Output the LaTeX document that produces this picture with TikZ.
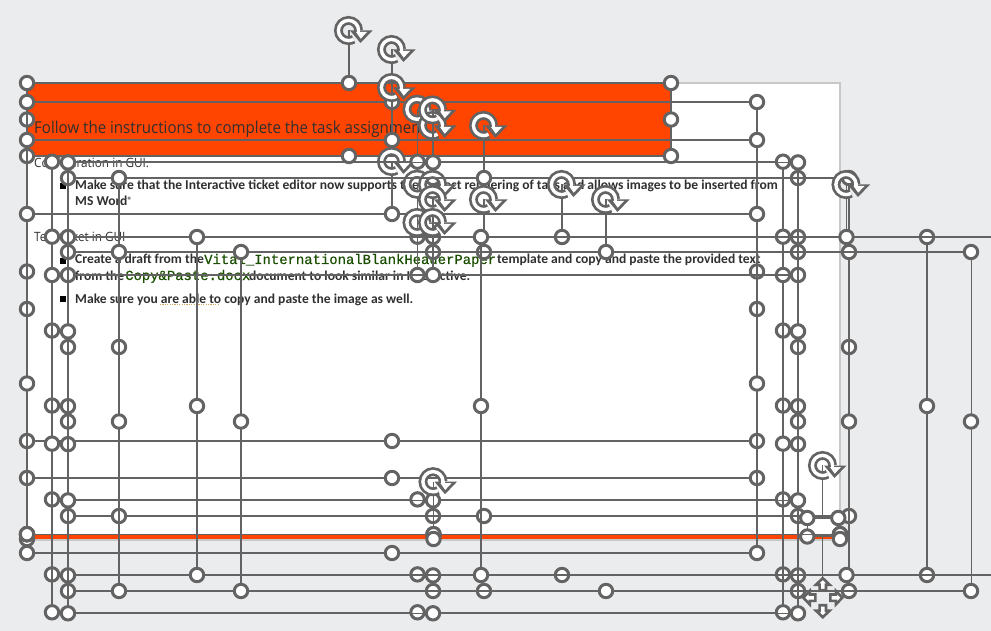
\documentclass[tikz,border=0pt]{standalone}
\usepackage{fontspec}
\setmainfont{Open Sans}[FakeStretch=0.92]
\newfontfamily\bodyfont{Carlito}[BoldFont={Carlito Bold}]
\newfontfamily\codefont{Liberation Mono}[FakeBold=0.5]
\definecolor{pagebg}{HTML}{EBECEE}
\definecolor{slideedge}{HTML}{C8C8C8}
\definecolor{barfill}{HTML}{FF4500}
\definecolor{selgray}{HTML}{636363}
\definecolor{inktext}{HTML}{303030}
\definecolor{codegreen}{HTML}{1A4F00}
\definecolor{squiggle}{HTML}{D0A860}
\tikzset{
  selline/.style={draw=selgray,line width=1.02pt},
  grip/.style={draw=selgray,fill=white,line width=3pt},
  head/.style={font=\fontsize{16.4}{20}\selectfont,text=inktext,anchor=base west,inner sep=0pt},
  subhead/.style={font=\fontsize{12.8}{16}\selectfont,text=inktext,anchor=base west,inner sep=0pt},
  body/.style={font=\bodyfont\bfseries\fontsize{13.56}{17}\selectfont,text=inktext,anchor=base west,inner sep=0pt},
  code/.style={font=\codefont\fontsize{13.9}{17}\selectfont,text=codegreen,anchor=base west,inner sep=0pt},
}
\newcommand{\gripat}[2]{\path[grip] (#1,#2) circle[radius=6.7];}
\newcommand{\rotmark}[2]{%
  \begin{scope}[shift={(#1-0.5,#2)}]
    \draw[selgray,line width=8.8pt] (10.1,0) arc[start angle=0,end angle=-300,radius=10.1];
    \draw[white,line width=3.4pt] (10.1,0) arc[start angle=0,end angle=-300,radius=10.1];
    \fill[selgray] (1.5,0) -- (24,0) -- (12,12.5) -- cycle;
    \fill[white] (7.5,1.5) -- (18.5,1.5) -- (12.2,8.2) -- cycle;
    \fill[white] (8.4,-1) rectangle (11.8,2);
  \end{scope}}
% left, top, right, bottom
\newcommand{\selbox}[4]{%
  \pgfmathsetmacro{\mx}{(#1+#3)/2}%
  \pgfmathsetmacro{\my}{(#2+#4)/2}%
  \pgfmathsetmacro{\ry}{#2-52.5}%
  \path[selline] (#1,#2) rectangle (#3,#4);
  \path[selline] (\mx,#2) -- (\mx,\ry);
  \rotmark{\mx}{\ry}
  \gripat{#1}{#2}\gripat{\mx}{#2}\gripat{#3}{#2}
  \gripat{#1}{\my}\gripat{#3}{\my}
  \gripat{#1}{#4}\gripat{\mx}{#4}\gripat{#3}{#4}}
\begin{document}
\begin{tikzpicture}[x=1pt,y=-1pt]
\clip (0,0) rectangle (991,631);
\fill[pagebg] (0,0) rectangle (991,631);
\path[fill=white,draw=slideedge,line width=1.2pt] (27,83) rectangle (840,540);
\fill[barfill] (27,83) rectangle (671,156);
\fill[barfill] (27,534.4) rectangle (840,539);
% texts
\node[head] (title) at (34,134) {Follow the instructions to complete the task assignment};
\node[subhead] (cfg) at (34,168) {Configuration in GUI.};
\node[subhead] (tst) at (34,242) {Test ticket in GUI};
\fill[black] (60,183) rectangle (66,189);
\fill[black] (60,258) rectangle (66,264);
\fill[black] (60,296) rectangle (66,302);
\node[body] (l1) at (75,190) {Make sure that the Interactive ticket editor now supports the correct rendering of tags and allows images to be inserted from};
\node[body] (l2) at (75,206) {MS Word\raisebox{0.35ex}{\fontsize{9}{9}\selectfont ®}};
\node[body] (l3a) at (75,264) {Create a draft from the};
\node[code] (l3b) at (204,264) {Vital\_InternationalBlankHeaderPaper};
\node[body] (l3c) at (497,264) {template and copy and paste the provided text};
\node[body] (l4a) at (75,280) {from the};
\node[code] (l4b) at (125,280) {Copy\&Paste.docx};
\node[body] (l4c) at (249,280) {document to look similar in Interactive.};
\node[body] (l5) at (75,303) {Make sure you are able to copy and paste the image as well.};
\draw[squiggle,line width=1.2pt,dash pattern=on 1.2pt off 1.2pt] (160,304.5) -- (219,304.5);
% selections
\selbox{27}{83}{671}{156}
\selbox{27}{102}{757}{441}
\selbox{27}{140}{757}{478}
\selbox{27}{214}{757}{553}
\selbox{52}{161.7}{783}{499.4}
\selbox{52}{236.7}{783}{574.4}
\selbox{52}{275}{783}{612.3}
\selbox{68}{178}{798}{516}
\selbox{68}{237}{798}{575.4}
\selbox{68}{252}{798}{591}
\selbox{68}{275}{798}{613.3}
\selbox{68}{162.4}{798}{500.4}
\selbox{119}{178}{849}{516}
\selbox{119}{252}{849}{591}
\selbox{197}{237}{927}{575}
\selbox{241}{252}{971}{591}
\selbox{481}{237}{1212}{575}
% small shape
\path[selline] (807.3,518) rectangle (838.3,536);
\path[selline] (822.8,518) -- (822.8,465);
\rotmark{823}{465.5}
\path[selline] (822.8,536) -- (822.8,577);
\gripat{807.3}{518}\gripat{838.3}{518}\gripat{807.3}{536.5}
% bottom bar
\gripat{27}{539}
\selbox{27}{534.2}{840}{534.2}
\gripat{433.5}{539}\gripat{840}{539}
% move cursor
\foreach \ang in {0,90,180,270}{
  \begin{scope}[shift={(822.8,597.7)},rotate=\ang]
    \path[draw=selgray,fill=white,line width=2.6pt,line join=miter]
      (0,-19.5) -- (6.8,-13) -- (3.2,-13) -- (3.2,-7.5) -- (-3.2,-7.5) -- (-3.2,-13) -- (-6.8,-13) -- cycle;
  \end{scope}}
\end{tikzpicture}
\end{document}
